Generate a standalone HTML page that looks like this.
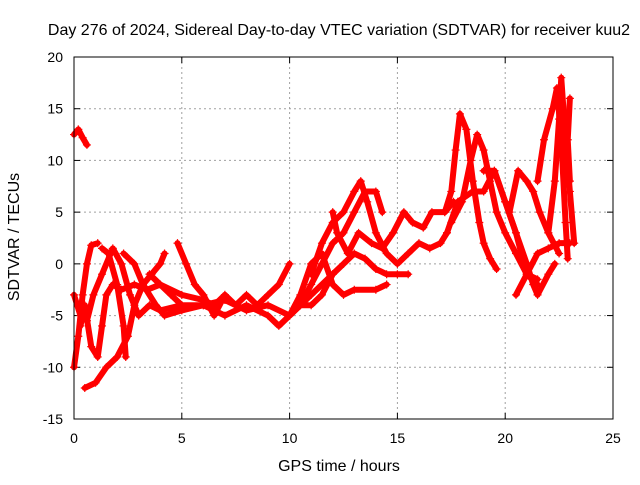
<!DOCTYPE html>
<html><head><meta charset="utf-8"><style>
body{margin:0;background:#fff;}
svg text{font-family:"Liberation Sans",sans-serif;font-size:14px;fill:#000;}
svg text.big{font-size:16px;}
</style></head><body>
<svg id="chart" width="640" height="480">
<text class="big" x="339" y="35" text-anchor="middle">Day 276 of 2024, Sidereal Day-to-day VTEC variation (SDTVAR) for receiver kuu2</text>
<text class="big" x="339" y="471" text-anchor="middle">GPS time / hours</text>
<text class="big" transform="translate(19,237) rotate(-90)" text-anchor="middle">SDTVAR / TECUs</text>
<g id="grid"></g><g id="ticks"></g><g id="marks"></g>
<rect x="74" y="57" width="539" height="362" fill="none" stroke="#000" stroke-width="1"/>
</svg>
<script>
const xTicks=[0,5,10,15,20,25];
const yTicks=[-15,-10,-5,0,5,10,15,20];
const tracks=[
[[0,12.5],[0.2,13],[0.4,12.2],[0.6,11.5]],
[[0,-10],[0.2,-7],[0.4,-3],[0.6,0],[0.8,1.8],[1.1,2]],
[[0.5,-12],[1,-11.5],[1.5,-10],[2,-9],[2.5,-7],[2.8,-4],[3.2,-2],[3.6,-1],[4,0],[4.2,1]],
[[1.3,1.5],[1.6,1],[2,-2],[2.3,-6],[2.4,-9]],
[[0,-3],[0.3,-5],[0.6,-5.5],[0.9,-3],[1.3,-1],[1.8,1.5],[2.2,0],[2.6,-3],[3.0,-5],[3.5,-4],[4,-4.5],[5,-4],[6,-4],[7,-3.5],[8,-4.5],[9,-4],[10,-5],[11,-3],[12,-1]],
[[0.3,-6],[0.5,-4],[0.8,-8],[1.1,-9],[1.3,-6],[1.5,-3],[1.8,-2],[2.2,-2.5],[2.8,-2],[3.4,-2.5],[4,-2],[5,-3],[6,-3.5],[6.5,-4],[7,-3],[7.5,-4],[8,-3],[8.5,-4],[9,-3],[9.5,-2],[10,0]],
[[2.3,1],[2.8,0],[3.2,-2],[3.8,-4],[4.2,-5],[5,-4.5],[6,-4],[7,-5],[8,-4],[9,-5],[9.5,-6],[10,-5],[10.5,-4],[11,-2],[11.5,0],[12,2],[12.5,3],[13,5],[13.5,7],[14,7],[14.3,5]],
[[3.5,-1],[4,-2],[4.5,-3],[5,-4]],
[[4.8,2],[5.2,0],[5.6,-2],[6,-3],[6.5,-5],[7,-3]],
[[10,-5],[10.5,-3],[11,0],[11.5,1],[12,-2],[12.5,-3],[13,-2.5],[14,-2.5],[14.5,-2]],
[[10.5,-4],[11,-4],[11.5,-3],[12,-1],[12.5,0],[13,1],[13.5,0.5],[14,-0.5],[14.5,-1],[15,-1],[15.5,-1]],
[[11,-1],[11.5,2],[12,4],[12.5,5],[13,7],[13.3,8],[13.6,6],[14,3],[14.5,1],[15,0],[15.5,1],[16,2],[16.5,1.5],[17,2],[17.3,3]],
[[12,5],[12.2,3],[12.7,1],[13.2,3],[13.8,2],[14.3,1.5],[14.8,3],[15.3,5],[15.7,4],[16.2,3.5],[16.6,5],[17.2,5],[17.6,6]],
[[17.2,5],[17.5,7],[17.7,11],[17.9,14.5],[18.2,13],[18.5,8],[18.8,4],[19,2],[19.3,0.5],[19.6,-0.5]],
[[17.5,4],[18,6],[18.4,10],[18.7,12.5],[19,11],[19.3,8],[19.6,5],[20,3],[20.5,1],[21,-1],[21.5,-2]],
[[17.3,3],[17.8,6],[18.5,7],[19,7],[19.5,9],[20,6],[20.5,3],[21,0],[21.3,-2],[21.5,-3],[22,-1],[22.3,0]],
[[19,9],[19.5,9],[20,6],[20.5,3],[21,-1],[21.5,-1.5]],
[[20.2,5],[20.6,9],[21,8],[21.3,7],[21.6,5],[22,3],[22.5,1]],
[[22,3],[22.3,8],[22.5,14],[22.6,18],[22.8,12],[23,7],[23.2,2]],
[[21.5,8],[21.8,12],[22.2,15],[22.4,17],[22.6,12],[22.8,4],[22.9,0.5]],
[[23,16],[22.9,12],[23,8]],
[[20.5,-3],[21,-1],[21.5,1],[22,1.5],[22.5,2],[23,2]]
];
const NS='http://www.w3.org/2000/svg';
function sx(h){return 74+h*539/25;}
function sy(v){return 57+(20-v)*362/35;}
const grid=document.getElementById('grid'),ticks=document.getElementById('ticks'),marks=document.getElementById('marks');
function mk(tag,attrs,parent){const e=document.createElementNS(NS,tag);for(const k in attrs)e.setAttribute(k,attrs[k]);parent.appendChild(e);return e;}
xTicks.forEach(t=>{const x=sx(t);
 if(t>0&&t<25){const g=mk('line',{x1:x,x2:x,y1:57,y2:419,stroke:'#a0a0a0','stroke-dasharray':'2,3'},grid);
 
 }
 mk('line',{x1:x,x2:x,y1:419,y2:413,stroke:'#000'},ticks);mk('line',{x1:x,x2:x,y1:57,y2:63,stroke:'#000'},ticks);
 const tx=mk('text',{x:x,y:443,'text-anchor':'middle'},ticks);tx.textContent=t;
 
 
});
yTicks.forEach(t=>{const y=sy(t);
 if(t>-15&&t<20){const g=mk('line',{x1:74,x2:613,y1:y,y2:y,stroke:'#a0a0a0','stroke-dasharray':'2,3'},grid);
 
 }
 mk('line',{x1:74,x2:80,y1:y,y2:y,stroke:'#000'},ticks);mk('line',{x1:613,x2:607,y1:y,y2:y,stroke:'#000'},ticks);
 const tx=mk('text',{x:63,y:y+5,'text-anchor':'end'},ticks);tx.textContent=t;
 
 
});
tracks.forEach((tr,i)=>{
 const pts=tr.map(p=>sx(p[0])+','+sy(p[1])).join(' ');
 const pl=mk('polyline',{points:pts,fill:'none',stroke:'#ff0000','stroke-width':6,'stroke-linejoin':'round','stroke-linecap':'round'},marks);
 
 
 tr.forEach(p=>{const x=sx(p[0]),y=sy(p[1]);
  const m=mk('path',{d:`M${x-4},${y}H${x+4}M${x},${y-4}V${y+4}`,stroke:'#ff0000','stroke-width':1.2},marks);
  
  
 });
});
</script>
</body></html>
